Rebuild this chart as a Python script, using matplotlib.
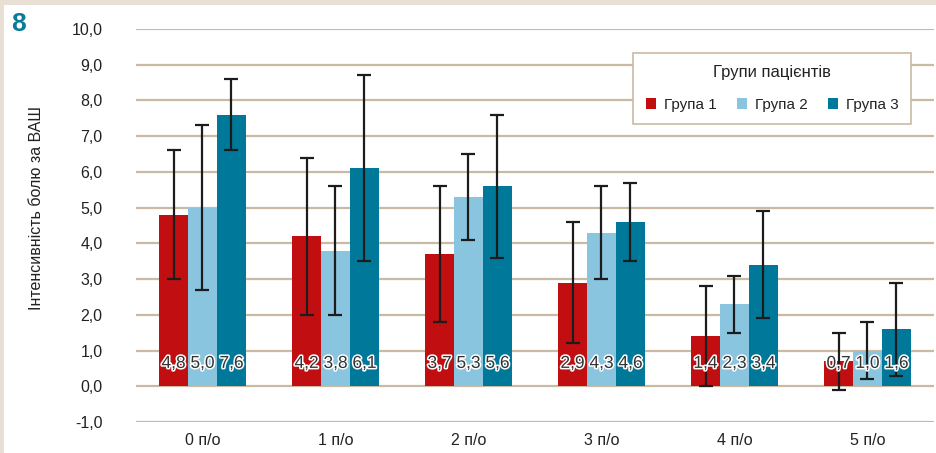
import matplotlib
matplotlib.use("Agg")
import matplotlib.pyplot as plt
import matplotlib.patheffects as pe
from matplotlib.patches import Rectangle
import numpy as np

plt.rcParams['font.family'] = ['Liberation Sans', 'DejaVu Sans']

categories = ["0 п/о", "1 п/о", "2 п/о", "3 п/о", "4 п/о", "5 п/о"]
series_names = ["Група 1", "Група 2", "Група 3"]
group1 = [4.8, 4.2, 3.7, 2.9, 1.4, 0.7]
group2 = [5.0, 3.8, 5.3, 4.3, 2.3, 1.0]
group3 = [7.6, 6.1, 5.6, 4.6, 3.4, 1.6]
err1 = [1.8, 2.2, 1.9, 1.7, 1.4, 0.8]
err2 = [2.3, 1.8, 1.2, 1.3, 0.8, 0.8]
err3 = [1.0, 2.6, 2.0, 1.1, 1.5, 1.3]
labels1 = ["4,8", "4,2", "3,7", "2,9", "1,4", "0,7"]
labels2 = ["5,0", "3,8", "5,3", "4,3", "2,3", "1,0"]
labels3 = ["7,6", "6,1", "5,6", "4,6", "3,4", "1,6"]
yticks = [-1, 0, 1, 2, 3, 4, 5, 6, 7, 8, 9, 10]
ytick_labels = ["-1,0", "0,0", "1,0", "2,0", "3,0", "4,0", "5,0", "6,0", "7,0", "8,0", "9,0", "10,0"]

colors = ["#C10E10", "#8AC5E0", "#00789A"]
grid_color = "#C9BBA3"
beige = "#E8E0D4"

W, H = 937, 453
fig = plt.figure(figsize=(W / 100, H / 100), dpi=100)
fig.patch.set_facecolor(beige)
fig.patches.append(Rectangle((4 / W, 0), 1 - 4 / W, 1 - 5 / H, transform=fig.transFigure,
                             facecolor="white", edgecolor="none", zorder=-10))

ax = fig.add_axes([136 / W, (H - 422) / H, 798 / W, 393 / H])
ax.set_zorder(1)
ax.set_facecolor("none")
for s in ax.spines.values():
    s.set_visible(False)

x = np.arange(len(categories))
bw = 0.218
series = [group1, group2, group3]
errs = [err1, err2, err3]
labs = [labels1, labels2, labels3]
for i, (vals, e, lab) in enumerate(zip(series, errs, labs)):
    pos = x + (i - 1) * bw
    ax.bar(pos, vals, width=bw, color=colors[i], label=series_names[i], zorder=3)
    ax.errorbar(pos, vals, yerr=e, fmt="none", ecolor="#1c1c1c", elinewidth=1.6,
                capsize=5, capthick=1.6, zorder=4)
    for p, t in zip(pos, lab):
        ax.text(p, 0.64, t, ha="center", va="center", fontsize=12.5, color="#333333", zorder=5,
                path_effects=[pe.withStroke(linewidth=2.2, foreground="white")])

ax.set_xlim(-0.5, len(categories) - 0.5)
ax.set_ylim(-1, 10)
ax.set_yticks(yticks)
ax.set_yticklabels(ytick_labels, fontsize=11.5, color="#222222")
ax.set_xticks(x)
ax.set_xticklabels(categories, fontsize=11.5, color="#222222")
ax.tick_params(axis="y", length=0, pad=24)
ax.tick_params(axis="x", length=0, pad=8)
ax.grid(axis="y", color=grid_color, linewidth=1.6, zorder=1)
ax.set_axisbelow(True)

ax.set_ylabel("Інтенсивність болю за ВАШ", fontsize=11.5, color="#222222")
ax.yaxis.set_label_coords(-0.115, 0.545)

leg = ax.legend(loc="upper right", bbox_to_anchor=(0.971, 0.94), ncol=3, fontsize=11,
                title="Групи пацієнтів", title_fontsize=12, frameon=True, fancybox=False,
                handlelength=0.7, handleheight=0.7, handletextpad=0.5, columnspacing=1.3,
                borderpad=0.8, labelspacing=0.5, borderaxespad=0)
leg.get_frame().set_edgecolor(grid_color)
leg.get_frame().set_linewidth(1.2)
leg.get_frame().set_facecolor("white")
leg.get_frame().set_alpha(1)
leg._legend_box.sep = 13
for t in leg.get_texts():
    t.set_color("#222222")
leg.get_title().set_color("#222222")

fig.text(11 / W, 1 - 24 / H, "8", fontsize=19, fontweight="bold", color="#0B7C97",
         ha="left", va="center")

fig.savefig("out.png", dpi=100, facecolor=fig.get_facecolor())
